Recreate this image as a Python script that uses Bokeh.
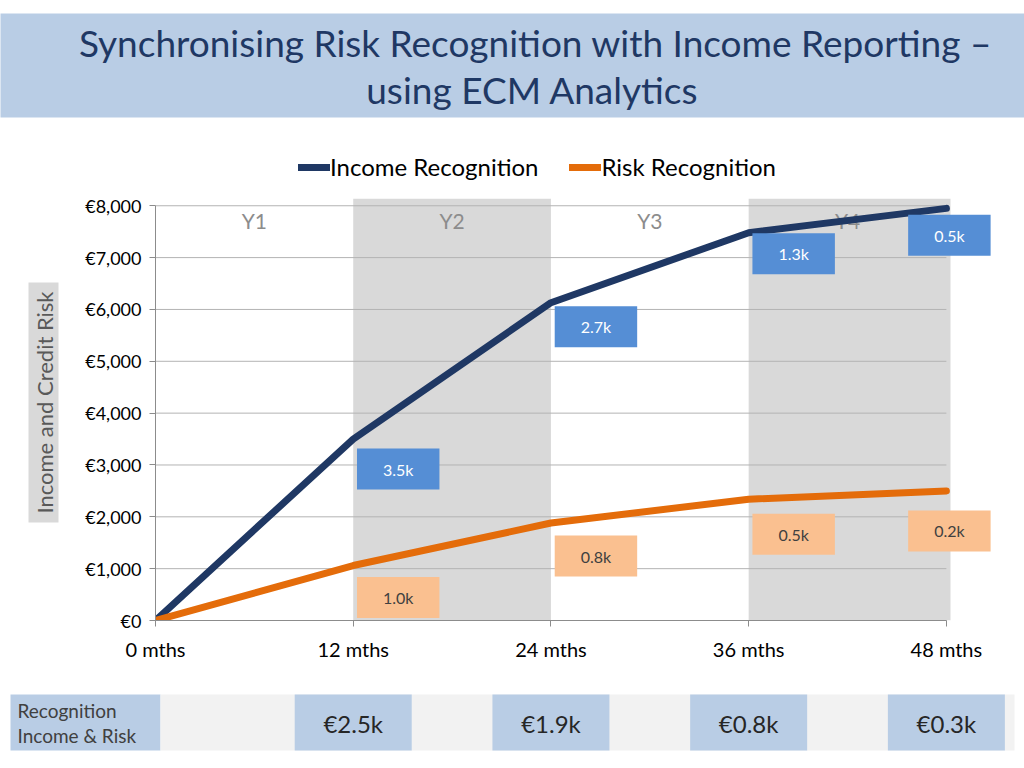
from bokeh.plotting import figure
from bokeh.layouts import column, row
from bokeh.models import Range1d, FixedTicker, Legend, LegendItem, ColumnDataSource
from bokeh.core.properties import value
from bokeh.embed import file_html
from bokeh.resources import INLINE

# ---------------- data ----------------
months = [0, 12, 24, 36, 48]
x_tick_labels = ["0 mths", "12 mths", "24 mths", "36 mths", "48 mths"]
income = [0, 3500, 6130, 7480, 7950]
risk = [0, 1060, 1880, 2340, 2500]
income_labels = ["3.5k", "2.7k", "1.3k", "0.5k"]
risk_labels = ["1.0k", "0.8k", "0.5k", "0.2k"]
years = ["Y1", "Y2", "Y3", "Y4"]
year_mid = [6, 18, 30, 42]
shaded_start = [12, 36]
shaded_end = [24, 48]
y_ticks = [0, 1000, 2000, 3000, 4000, 5000, 6000, 7000, 8000]
y_tick_labels = ["€0", "€1,000", "€2,000", "€3,000", "€4,000", "€5,000", "€6,000", "€7,000", "€8,000"]
net_labels = ["€2.5k", "€1.9k", "€0.8k", "€0.3k"]
net_months = [12, 24, 36, 48]
title_lines = ["Synchronising Risk Recognition with Income Reporting –", "using ECM Analytics"]
y_title = "Income and Credit Risk"
table_header = ["Recognition", "Income & Risk"]
series_names = ["Income Recognition", "Risk Recognition"]

# ---------------- style ----------------
FONT = "Lato"
NAVY = "#1f3864"
ORANGE = "#e46c0a"
BOX_BLUE = "#558ed5"
BOX_ORANGE = "#fac090"
BAND_BLUE = "#b9cde5"
SHADE = "#d9d9d9"

PAGE_W = 1024
X_EDGE = 48.25          # right edge of the chart area (shading / gridlines)
Y_END = 8140
FRAME_LEFT = 155
PX_PER_MONTH = (950 - FRAME_LEFT) / X_EDGE
FRAME_RIGHT = 1002      # frame is wider so that the last data labels are not clipped
X_END = (FRAME_RIGHT - FRAME_LEFT) / PX_PER_MONTH
ROW_TOP = 188
FRAME_TOP = 198
FRAME_BOTTOM = 620


def blank(fig):
    fig.axis.visible = False
    fig.grid.visible = False
    fig.outline_line_color = None
    return fig


# ---------------- title figure ----------------
t = blank(figure(width=PAGE_W, height=120, x_range=Range1d(0, PAGE_W), y_range=Range1d(120, 0),
                 output_backend="svg", toolbar_location=None, min_border=0))
t.quad(left=[-10], right=[PAGE_W + 10], top=[13], bottom=[117], fill_color=BAND_BLUE, line_color=None)
t.text(x=[PAGE_W / 2 + 23, PAGE_W / 2 + 20], y=[42, 89], text=title_lines,
       text_font=value(FONT), text_font_size="37px", text_color=NAVY,
       text_align="center", text_baseline="middle")

# ---------------- legend figure ----------------
lg = blank(figure(width=PAGE_W, height=ROW_TOP - 120, x_range=Range1d(0, 1), y_range=Range1d(0, 1),
                  output_backend="svg", toolbar_location=None, min_border=0))
l_inc = lg.line(x=[-5, -4], y=[-5, -4], line_color=NAVY, line_width=7, line_cap="round")
l_risk = lg.line(x=[-5, -4], y=[-5, -4], line_color=ORANGE, line_width=7, line_cap="round")
legend = Legend(items=[LegendItem(label=series_names[0], renderers=[l_inc]),
                       LegendItem(label=series_names[1], renderers=[l_risk])],
                orientation="horizontal", location=(298, 7),
                label_text_font=FONT, label_text_font_size="24px", label_text_color="black",
                glyph_width=32, label_standoff=0, spacing=31, padding=0, margin=0,
                border_line_color=None, background_fill_alpha=0)
lg.add_layout(legend)

# ---------------- y-axis title figure (its frame is aligned with the chart frame) ----------------
yl = blank(figure(width=60, height=500, x_range=Range1d(0, 60), y_range=Range1d(FRAME_BOTTOM, FRAME_TOP),
                  output_backend="svg", toolbar_location=None, min_border=0))
yl.quad(left=[28], right=[58], top=[282], bottom=[522], fill_color=SHADE, line_color=None)
yl.text(x=[44], y=[402], text=[y_title], angle=1.5708, text_font=value(FONT),
        text_font_size="22px", text_color="#595959", text_align="center", text_baseline="middle")

# ---------------- main chart ----------------
p = figure(width=PAGE_W - 60, height=500, x_range=Range1d(0, X_END), y_range=Range1d(0, Y_END),
           output_backend="svg", toolbar_location=None,
           min_border_left=FRAME_LEFT - 60, min_border_right=PAGE_W - FRAME_RIGHT,
           min_border_top=FRAME_TOP - ROW_TOP, min_border_bottom=ROW_TOP + 500 - FRAME_BOTTOM)
p.outline_line_color = None
p.background_fill_color = "white"
p.grid.visible = False

p.quad(left=shaded_start, right=[shaded_end[0], X_EDGE], bottom=[0, 0], top=[Y_END, Y_END],
       fill_color=SHADE, line_color=None, level="image")
p.segment(x0=[0] * len(y_ticks), x1=[X_EDGE - 0.25] * len(y_ticks), y0=y_ticks, y1=y_ticks,
          line_color="#b3b3b3", line_width=1, level="underlay")

p.yaxis.ticker = FixedTicker(ticks=y_ticks)
p.yaxis.major_label_overrides = dict(zip(y_ticks, y_tick_labels))
p.yaxis.bounds = (0, 8000)
p.xaxis.ticker = FixedTicker(ticks=months)
p.xaxis.major_label_overrides = dict(zip(months, x_tick_labels))
p.xaxis.bounds = (0, 48)
for ax in (p.xaxis, p.yaxis):
    ax.axis_line_color = "#8c8c8c"
    ax.major_tick_line_color = "#8c8c8c"
    ax.major_tick_out = 6
    ax.major_tick_in = 0
    ax.minor_tick_line_color = None
    ax.major_label_text_font = FONT
    ax.major_label_text_color = "black"
p.yaxis.major_label_text_font_size = "18px"
p.yaxis.major_label_standoff = 8
p.xaxis.major_label_text_font_size = "20px"
p.xaxis.major_label_standoff = 10

p.text(x=year_mid, y=[7720] * 4, text=years, text_font=value(FONT), text_font_size="21px",
       text_color="#8c8c8c", text_align="center", text_baseline="middle")

p.line(months, income, line_color=NAVY, line_width=7, line_join="round", line_cap="round")
p.line(months, risk, line_color=ORANGE, line_width=7, line_join="round", line_cap="round")

inc_src = ColumnDataSource(dict(x=months[1:], y=income[1:], t=income_labels,
                                xo=[45, 45, 45, 3], yo=[30, 24, 21, 27]))
p.text(x="x", y="y", text="t", source=inc_src, x_offset="xo", y_offset="yo",
       text_font=value(FONT), text_font_size="16px", text_color="white",
       text_align="center", text_baseline="middle",
       background_fill_color=BOX_BLUE, padding=(26, 11))
risk_src = ColumnDataSource(dict(x=months[1:], y=risk[1:], t=risk_labels,
                                 xo=[45, 45, 45, 3], yo=[32, 33, 35, 40]))
p.text(x="x", y="y", text="t", source=risk_src, x_offset="xo", y_offset="yo",
       text_font=value(FONT), text_font_size="16px", text_color="#404040",
       text_align="center", text_baseline="middle",
       background_fill_color=BOX_ORANGE, padding=(26, 11))

# ---------------- bottom table ----------------
x0 = -FRAME_LEFT / PX_PER_MONTH
x1 = x0 + PAGE_W / PX_PER_MONTH
tb = blank(figure(width=PAGE_W, height=80, x_range=Range1d(x0, x1), y_range=Range1d(80, 0),
                  output_backend="svg", toolbar_location=None, min_border=0))
hdr_right = x0 + 160 / PX_PER_MONTH
tb.quad(left=[x0 + 10 / PX_PER_MONTH], right=[hdr_right], top=[6], bottom=[62], fill_color=BAND_BLUE, line_color=None)
tb.quad(left=[hdr_right], right=[x0 + 1014 / PX_PER_MONTH], top=[6], bottom=[62], fill_color="#f2f2f2", line_color=None)
cell_w = 117 / PX_PER_MONTH
tb.quad(left=[m - cell_w / 2 for m in net_months], right=[m + cell_w / 2 for m in net_months],
        top=[6] * 4, bottom=[62] * 4, fill_color=BAND_BLUE, line_color=None)
tb.text(x=net_months, y=[35] * 4, text=net_labels, text_font=value(FONT), text_font_size="24px",
        text_color="#262626", text_align="center", text_baseline="middle")
tb.text(x=[x0 + 17 / PX_PER_MONTH] * 2, y=[22, 47], text=table_header, text_font=value(FONT),
        text_font_size="19px", text_color="#404040", text_align="left", text_baseline="middle")

layout = column(t, lg, row(yl, p), tb)
open("out.html", "w").write(file_html(layout, INLINE))
